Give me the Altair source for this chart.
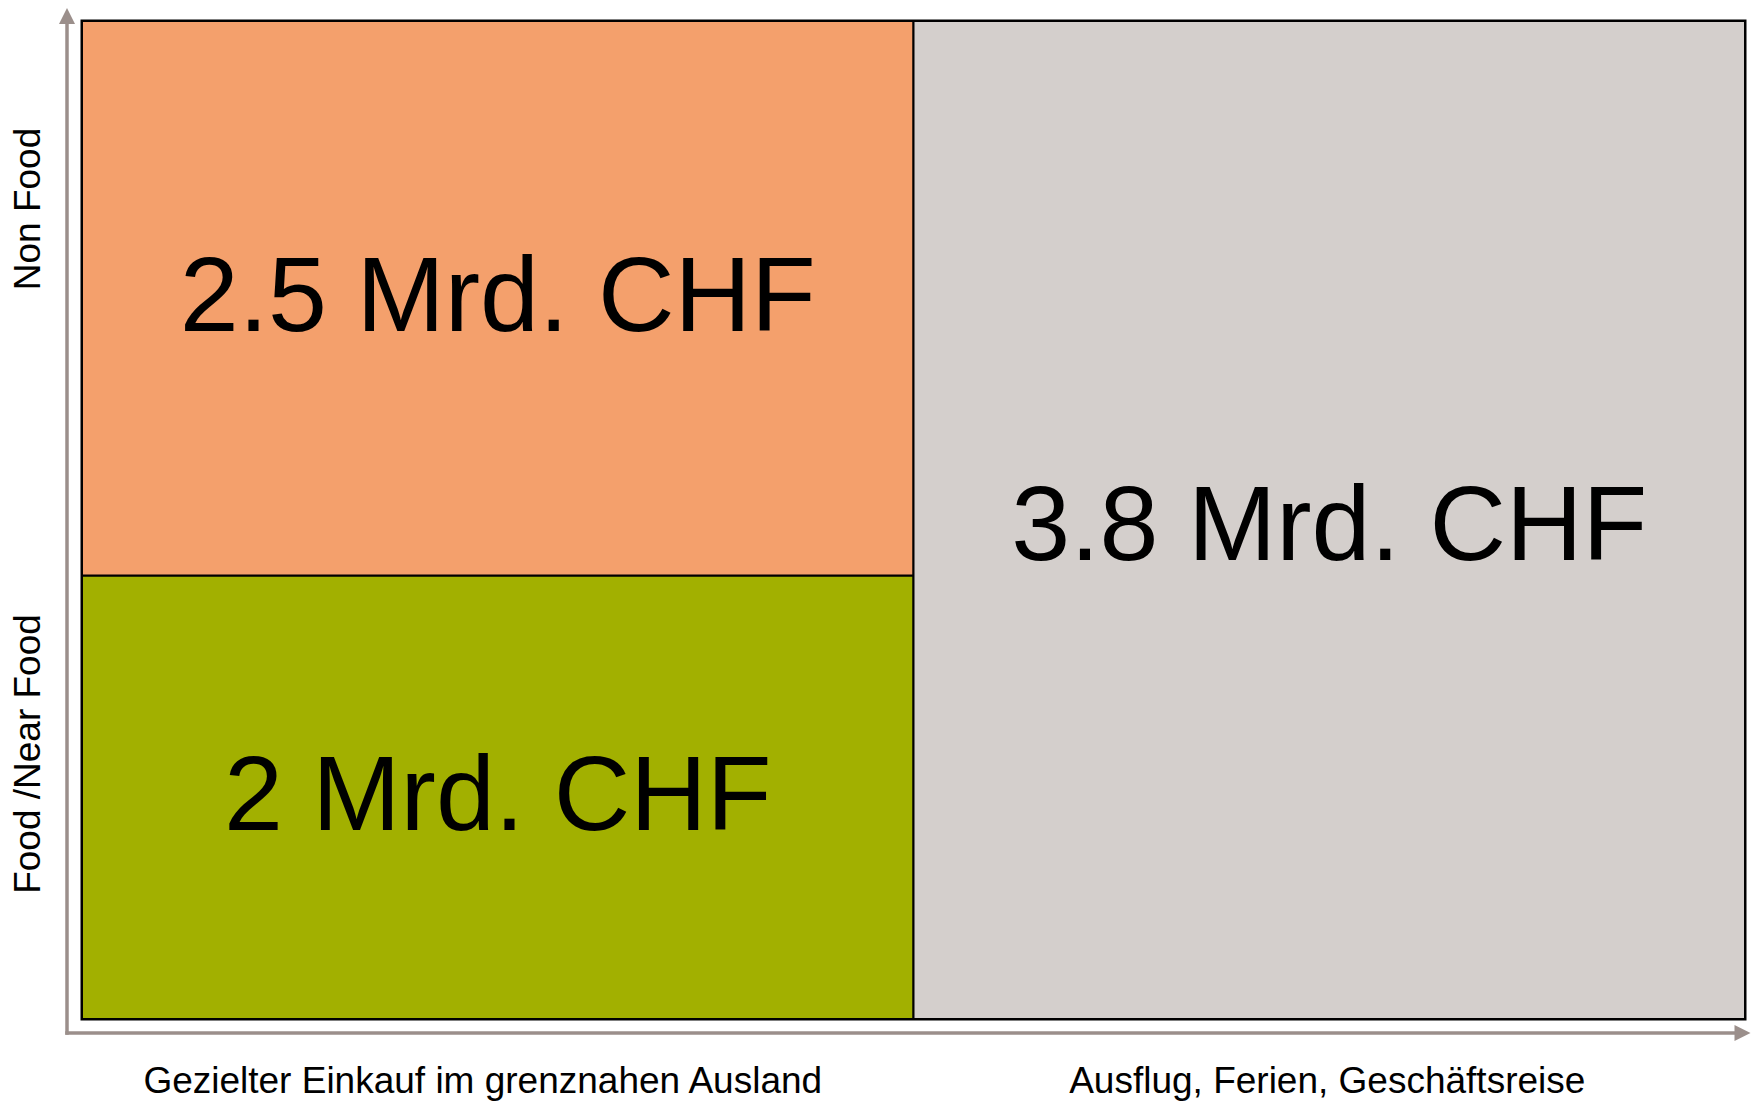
import altair as alt
import pandas as pd

# --- data ---
einkauf = [
    "Gezielter Einkauf im grenznahen Ausland",
    "Gezielter Einkauf im grenznahen Ausland",
    "Ausflug, Ferien, Geschäftsreise",
]
sortiment = ["Food /Near Food", "Non Food", "Food & Non Food"]
werte = [2.0, 2.5, 3.8]  # Mrd. CHF
einkauf_order = ["Gezielter Einkauf im grenznahen Ausland", "Ausflug, Ferien, Geschäftsreise"]
zellen = ["food", "nonfood", "reise"]
farben = ["#A2B000", "#F4A06C", "#D4CFCC"]
y_labels = ["Non Food", "Food /Near Food"]

df = pd.DataFrame({
    "Einkauf": einkauf,
    "Sortiment": sortiment,
    "value": werte,
    "zelle": zellen,
    "label": [f"{v:g} Mrd. CHF" for v in werte],
})

FONT = "Liberation Sans, Arial, sans-serif"
AXIS_COLOR = "#9B8F8B"
W, H = 1663, 998

base = alt.Chart(df).transform_stack(
    stack="value",
    as_=["y0", "y1"],
    groupby=["Einkauf"],
    sort=[alt.SortField("Sortiment", order="ascending")],
    offset="normalize",
).transform_calculate(mid="(datum.y0 + datum.y1) / 2")

xscale = alt.Scale(domain=einkauf_order, paddingInner=0, paddingOuter=0)
yscale = alt.Scale(domain=[0, 1], nice=False, zero=False)

rects = base.mark_rect(stroke="black", strokeWidth=2).encode(
    x=alt.X("Einkauf:N", scale=xscale, axis=None),
    y=alt.Y("y0:Q", scale=yscale, axis=None),
    y2="y1:Q",
    color=alt.Color("zelle:N", scale=alt.Scale(domain=zellen, range=farben), legend=None),
)


def cell_text(col, dy):
    return base.transform_filter(
        alt.datum.Einkauf == col
    ).mark_text(
        font=FONT, fontSize=106, color="black", align="center",
        baseline="alphabetic", dy=dy,
    ).encode(
        x=alt.X("Einkauf:N", scale=xscale, axis=None),
        y=alt.Y("mid:Q", scale=yscale, axis=None),
        text="label:N",
    )


texts_left = cell_text(einkauf_order[0], 33)
texts_right = cell_text(einkauf_order[1], 40)


def x_label(name, dx):
    return alt.Chart(pd.DataFrame({"Einkauf": [name]})).mark_text(
        font=FONT, fontSize=37, color="black", align="center",
        baseline="alphabetic", dx=dx,
    ).encode(
        x=alt.X("Einkauf:N", scale=xscale, axis=None),
        y=alt.value(H + 74),
        text="Einkauf:N",
    )


xlab1 = x_label(einkauf_order[0], -15)
xlab2 = x_label(einkauf_order[1], -2)

one = alt.Data(values=[{}])
vline = alt.Chart(one).mark_rule(color=AXIS_COLOR, strokeWidth=3.5).encode(
    x=alt.value(-15), y=alt.value(-4), y2=alt.value(1013.7)
)
hline = alt.Chart(one).mark_rule(color=AXIS_COLOR, strokeWidth=3.5).encode(
    x=alt.value(-16.7), x2=alt.value(1660), y=alt.value(1012)
)
head_up = alt.Chart(one).mark_point(
    shape="M-1,1L1,1L0,-1Z", filled=True, size=256, color=AXIS_COLOR, opacity=1, strokeWidth=0
).encode(x=alt.value(-15), y=alt.value(-5))
head_right = alt.Chart(one).mark_point(
    shape="M-1,-1L1,0L-1,1Z", filled=True, size=256, color=AXIS_COLOR, opacity=1, strokeWidth=0
).encode(x=alt.value(1660.5), y=alt.value(1012))

ylab_non = alt.Chart(one).mark_text(
    text=y_labels[0], font=FONT, fontSize=37, angle=270, align="center",
    baseline="alphabetic", color="black",
).encode(x=alt.value(-42), y=alt.value(188))
ylab_food = alt.Chart(one).mark_text(
    text=y_labels[1], font=FONT, fontSize=37, angle=270, align="center",
    baseline="alphabetic", color="black",
).encode(x=alt.value(-42), y=alt.value(733))

chart = alt.layer(
    rects, texts_left, texts_right, xlab1, xlab2,
    vline, hline, head_up, head_right, ylab_non, ylab_food
).properties(
    width=W, height=H,
    padding={"left": 74, "top": 13, "right": 6, "bottom": 83},
    autosize=alt.AutoSizeParams(type="none"),
).configure_view(stroke="black", strokeWidth=3)

chart.save("out.html", embed_options={"renderer": "svg", "actions": False})
